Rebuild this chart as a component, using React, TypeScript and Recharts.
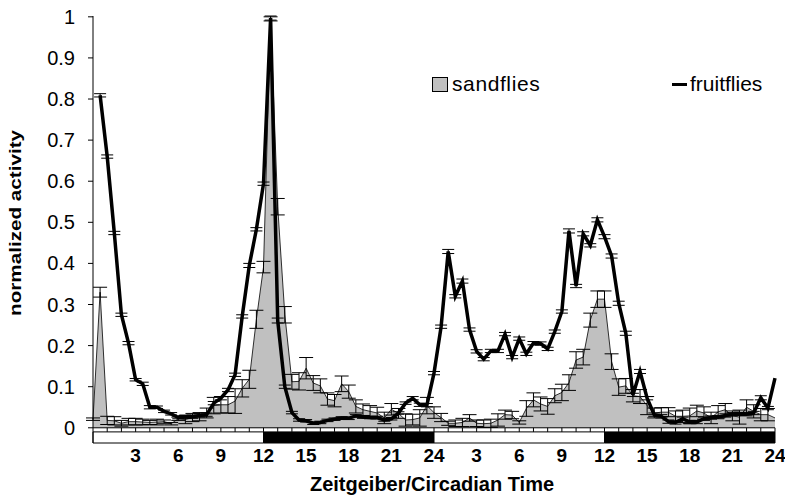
import {
  ComposedChart,
  Area,
  Line,
  XAxis,
  YAxis,
  ErrorBar,
  ReferenceLine,
  ReferenceArea,
  Label,
} from "recharts";

// half-hour bins over two days (t = 0 .. 48 h)
const sandflies = [
  0.021, 0.33, 0.018, 0.017, 0.011, 0.015, 0.015, 0.014, 0.013, 0.014, 0.015, 0.01,
  0.022, 0.02, 0.025, 0.027, 0.036, 0.054, 0.056, 0.056, 0.065, 0.096, 0.118, 0.264,
  0.391, 0.995, 0.538, 0.275, 0.112, 0.113, 0.145, 0.109, 0.102, 0.07, 0.066, 0.107,
  0.088, 0.052, 0.044, 0.04, 0.036, 0.024, 0.045, 0.035, 0.019, 0.02, 0.024, 0.054,
  0.037, 0.025, 0.011, 0.011, 0.013, 0.024, 0.011, 0.01, 0.011, 0.019, 0.032, 0.031,
  0.013, 0.047, 0.068, 0.058, 0.052, 0.078, 0.086, 0.11, 0.165, 0.172, 0.262, 0.313,
  0.313, 0.161, 0.099, 0.102, 0.078, 0.076, 0.054, 0.036, 0.038, 0.038, 0.028, 0.028,
  0.029, 0.041, 0.036, 0.024, 0.039, 0.044, 0.029, 0.026, 0.05, 0.04, 0.032, 0.032,
  0.024,
];

const sandErr = [
  0.003, 0.012, 0.01, 0.01, 0.007, 0.008, 0.008, 0.007, 0.005, 0.007, 0.004, 0.003,
  0.004, 0.01, 0.01, 0.01, 0.012, 0.02, 0.02, 0.02, 0.03, 0.021, 0.022, 0.022,
  0.014, 0.005, 0.02, 0.02, 0.018, 0.021, 0.026, 0.018, 0.017, 0.015, 0.015, 0.019,
  0.016, 0.016, 0.014, 0.014, 0.014, 0.014, 0.014, 0.012, 0.015, 0.013, 0.02, 0.02,
  0.014, 0.01, 0.005, 0.008, 0.01, 0.008, 0.008, 0.009, 0.01, 0.015, 0.011, 0.009,
  0.004, 0.019, 0.017, 0.017, 0.019, 0.017, 0.02, 0.019, 0.02, 0.019, 0.017, 0.02,
  0.02, 0.019, 0.02, 0.018, 0.015, 0.017, 0.022, 0.012, 0.011, 0.011, 0.013, 0.015,
  0.019, 0.014, 0.015, 0.014, 0.015, 0.015, 0.012, 0.017, 0.018, 0.016, 0.015, 0.015,
  0,
];

const fruitflies = [
  null, 0.809, 0.66, 0.474, 0.275, 0.206, 0.117, 0.107, 0.05, 0.05, 0.04, 0.034,
  0.025, 0.027, 0.027, 0.03, 0.032, 0.06, 0.072, 0.092, 0.129, 0.271, 0.395, 0.483,
  0.594, 0.997, 0.261, 0.1, 0.037, 0.019, 0.017, 0.011, 0.013, 0.018, 0.021, 0.024,
  0.023, 0.029, 0.026, 0.025, 0.025, 0.019, 0.022, 0.036, 0.06, 0.072, 0.056, 0.055,
  0.133, 0.246, 0.429, 0.32, 0.357, 0.239, 0.186, 0.167, 0.187, 0.187, 0.228, 0.172,
  0.217, 0.18, 0.206, 0.205, 0.192, 0.234, 0.283, 0.479, 0.345, 0.472, 0.444, 0.506,
  0.465, 0.418, 0.303, 0.23, 0.08, 0.137, 0.072, 0.032, 0.028, 0.015, 0.013, 0.022,
  0.014, 0.014, 0.022, 0.025, 0.026, 0.03, 0.033, 0.034, 0.033, 0.036, 0.073, 0.048,
  0.121,
];

const fruitErr = [
  null, 0.004, 0.004, 0.004, 0.004, 0.004, 0.003, 0.004, 0.004, 0.003, 0.003, 0.003,
  0.003, 0.004, 0.004, 0.004, 0.004, 0.004, 0.004, 0.004, 0.004, 0.004, 0.005, 0.004,
  0.004, 0.005, 0.006, 0.004, 0.003, 0.003, 0.003, 0.003, 0.003, 0.003, 0.003, 0.003,
  0.003, 0.003, 0.003, 0.003, 0.003, 0.003, 0.003, 0.003, 0.003, 0.004, 0.004, 0.004,
  0.004, 0.004, 0.005, 0.004, 0.005, 0.004, 0.004, 0.004, 0.004, 0.004, 0.004, 0.004,
  0.004, 0.004, 0.004, 0.004, 0.004, 0.004, 0.004, 0.005, 0.004, 0.005, 0.004, 0.005,
  0.005, 0.005, 0.005, 0.005, 0.004, 0.005, 0.004, 0.004, 0.004, 0.004, 0.004, 0.004,
  0.004, 0.004, 0.004, 0.004, 0.004, 0.004, 0.004, 0.004, 0.004, 0.004, 0.005, 0.004,
  null,
];

const xTicks = [3, 6, 9, 12, 15, 18, 21, 24, 27, 30, 33, 36, 39, 42, 45, 48];
const yTicks = [0, 0.1, 0.2, 0.3, 0.4, 0.5, 0.6, 0.7, 0.8, 0.9, 1];
const hourMarks = Array.from({ length: 48 }, (_, i) => i + 1);
const lightDark = [
  { from: 0, to: 12, fill: "#ffffff" },
  { from: 12, to: 24, fill: "#000000" },
  { from: 24, to: 36, fill: "#ffffff" },
  { from: 36, to: 48, fill: "#000000" },
];

const data = sandflies.map((s, i) => ({
  t: i * 0.5,
  sand: s,
  sandErr: sandErr[i],
  fruit: fruitflies[i],
  fruitErr: fruitErr[i],
}));

const FONT = "'Liberation Sans', Arial, Helvetica, sans-serif";

function YTick({ x, y, payload }: any) {
  return (
    <text x={x - 11} y={y} dy={7} textAnchor="end" fontSize={20} fontFamily={FONT} fill="#000">
      {String(payload.value)}
    </text>
  );
}

function XTick({ x, payload }: any) {
  const v = payload.value > 24 ? payload.value - 24 : payload.value;
  return (
    <text x={x} y={462} textAnchor="middle" fontSize={19} fontWeight="bold" fontFamily={FONT} fill="#000">
      {v}
    </text>
  );
}

export default function App() {
  return (
    <div style={{ position: "relative", width: 785, height: 500, background: "#fff" }}>
      <style>{"body{margin:0}"}</style>
      <ComposedChart
        width={785}
        height={500}
        data={data}
        margin={{ top: 16, right: 10, left: 0, bottom: 0 }}
      >
        <XAxis
          type="number"
          dataKey="t"
          domain={[0, 48]}
          ticks={xTicks}
          interval={0}
          axisLine={false}
          tickLine={false}
          height={57}
          tick={<XTick />}
        >
          <Label
            content={() => (
              <text x={432} y={491} textAnchor="middle" fontSize={20} fontWeight="bold" fontFamily={FONT} fill="#000">
                Zeitgeiber/Circadian Time
              </text>
            )}
          />
        </XAxis>
        <YAxis
          type="number"
          domain={[-0.037, 1]}
          ticks={yTicks}
          interval={0}
          width={93}
          axisLine={{ stroke: "#000", strokeWidth: 1 }}
          tickLine={{ stroke: "#000" }}
          tickSize={5}
          tick={<YTick />}
        >
          <Label
            content={() => (
              <text
                x={15}
                y={223}
                transform="rotate(-90 15 223)"
                textAnchor="middle"
                dominantBaseline="central"
                fontSize={17}
                fontWeight="bold"
                fontFamily={FONT}
                textLength={186}
                lengthAdjust="spacingAndGlyphs"
                fill="#000"
              >
                normalized activity
              </text>
            )}
          />
        </YAxis>

        {lightDark.map((p) => (
          <ReferenceArea
            key={p.from}
            x1={p.from}
            x2={p.to}
            y1={-0.037}
            y2={-0.01}
            fill={p.fill}
            fillOpacity={1}
            stroke="#000"
            strokeWidth={1}
          />
        ))}

        <Area
          type="linear"
          dataKey="sand"
          baseValue={0}
          fill="#c0c0c0"
          fillOpacity={1}
          stroke="#000"
          strokeWidth={0.8}
          dot={false}
          activeDot={false}
          isAnimationActive={false}
        />
        <Line
          type="linear"
          dataKey="sand"
          stroke="none"
          dot={false}
          activeDot={false}
          isAnimationActive={false}
        >
          <ErrorBar dataKey="sandErr" width={7} stroke="#000" strokeWidth={1} />
        </Line>
        <Line
          type="linear"
          dataKey="fruit"
          stroke="#000"
          strokeWidth={3.5}
          dot={false}
          activeDot={false}
          isAnimationActive={false}
        >
          <ErrorBar dataKey="fruitErr" width={6} stroke="#000" strokeWidth={1} />
        </Line>

        <ReferenceLine y={0} stroke="#000" strokeWidth={1} />
        {hourMarks.map((h) => (
          <ReferenceLine
            key={h}
            segment={[
              { x: h, y: 0 },
              { x: h, y: -0.01 },
            ]}
            stroke="#000"
            strokeWidth={1}
          />
        ))}
      </ComposedChart>

      <div
        style={{
          position: "absolute",
          left: 432,
          top: 72,
          display: "flex",
          alignItems: "center",
          fontFamily: FONT,
          fontSize: 21,
          color: "#000",
        }}
      >
        <span style={{ width: 14, height: 13, background: "#c0c0c0", border: "1px solid #000", marginRight: 4 }} />
        <span style={{ letterSpacing: 0.6 }}>sandflies</span>
      </div>
      <div
        style={{
          position: "absolute",
          left: 672,
          top: 72,
          display: "flex",
          alignItems: "center",
          fontFamily: FONT,
          fontSize: 21,
          color: "#000",
        }}
      >
        <span style={{ width: 15, height: 3, background: "#000", marginRight: 3 }} />
        <span>fruitflies</span>
      </div>
    </div>
  );
}
